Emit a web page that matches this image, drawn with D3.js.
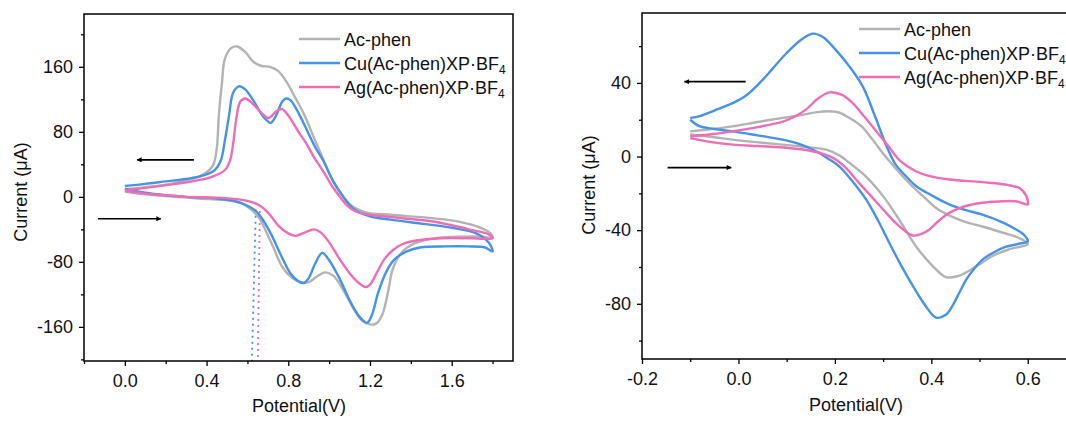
<!DOCTYPE html>
<html><head><meta charset="utf-8">
<script src="https://cdn.jsdelivr.net/npm/d3@7"></script>
<style>
html,body{margin:0;padding:0;background:#fff;}
svg{display:block;font-family:"Liberation Sans",Arial,Helvetica,sans-serif;}
</style></head>
<body><svg id="chart" width="1066" height="421"></svg>
<script>
// ---------- DATA ----------
const seriesNames = ["Ac-phen", "Cu(Ac-phen)XP·BF", "Ag(Ac-phen)XP·BF"];
const seriesSubs = ["", "4", "4"];

// Left panel: [potential V, current µA], forward (lower) branch then return (upper) branch
const leftAcPhen = [
  [0,6.5],[0.1,3],[0.2,1],[0.36,-2],[0.52,-5],[0.58,-9],[0.62,-16],[0.66,-27],[0.69,-42],[0.73,-64],[0.77,-86],[0.82,-100],[0.86,-105],[0.9,-105],[0.94,-98],[0.98,-93],[1.02,-97],[1.07,-115],[1.12,-138],[1.16,-152],[1.2,-157],[1.23,-156],[1.26,-145],[1.29,-115],[1.31,-90],[1.35,-70],[1.42,-57],[1.52,-51],[1.65,-49],[1.75,-49],[1.8,-50],
  [1.79,-45],[1.73,-37],[1.6,-29],[1.45,-25],[1.3,-22],[1.18,-19],[1.1,-9],[1.05,7],[1.01,24],[0.97,47],[0.93,70],[0.88,100],[0.83,124],[0.79,142],[0.75,155],[0.71,160],[0.67,161],[0.63,166],[0.59,178],[0.55,185],[0.52,183],[0.49,170],[0.475,140],[0.46,100],[0.45,60],[0.43,38],[0.38,27],[0.3,20],[0.2,15],[0.1,12],[0,9.5]
];
const leftCu = [
  [0,10],[0.1,5],[0.2,2],[0.3,0],[0.45,-2],[0.55,-6],[0.6,-11],[0.64,-17],[0.68,-30],[0.72,-48],[0.77,-75],[0.81,-94],[0.85,-104],[0.876,-106],[0.9,-100],[0.93,-83],[0.966,-69],[1.0,-78],[1.05,-100],[1.1,-127],[1.15,-148],[1.186,-155],[1.21,-145],[1.24,-118],[1.28,-92],[1.32,-77],[1.38,-67],[1.45,-62],[1.57,-61],[1.68,-61],[1.76,-62],[1.8,-67],
  [1.78,-56],[1.72,-45],[1.6,-38],[1.45,-33],[1.3,-28],[1.2,-24],[1.12,-15],[1.07,0],[1.02,19],[0.97,45],[0.93,62],[0.88,88],[0.84,108],[0.81,119],[0.79,121],[0.77,117],[0.74,100],[0.713,91],[0.68,98],[0.63,118],[0.59,132],[0.558,136],[0.53,128],[0.51,100],[0.49,70],[0.47,45],[0.44,33],[0.38,26],[0.3,22],[0.2,19],[0.1,16],[0,13.5]
];
const leftAg = [
  [0,7.4],[0.1,4],[0.2,2],[0.3,0],[0.45,-1],[0.55,-3],[0.6,-5],[0.656,-10],[0.7,-19],[0.75,-35],[0.8,-45],[0.836,-48],[0.88,-44],[0.925,-40],[0.96,-44],[1.0,-56],[1.05,-76],[1.1,-94],[1.15,-107],[1.178,-111],[1.2,-108],[1.23,-95],[1.27,-77],[1.31,-66],[1.36,-58],[1.42,-54],[1.55,-51],[1.7,-51],[1.8,-51],
  [1.78,-46],[1.7,-41],[1.6,-35],[1.5,-30],[1.35,-26],[1.2,-22],[1.13,-18],[1.09,-11],[1.05,1],[1.015,13],[0.97,32],[0.93,47],[0.89,65],[0.85,80],[0.8,100],[0.77,108],[0.74,105],[0.705,97],[0.67,103],[0.62,116],[0.59,121],[0.565,117],[0.545,95],[0.53,65],[0.515,45],[0.49,33],[0.43,25],[0.35,20],[0.25,16],[0.1,11],[0,8]
];
// dotted guide lines (left panel): [top point, bottom point]
const leftGuideCu = [[0.641,-16],[0.622,-202]];
const leftGuideAg = [[0.661,-10],[0.651,-202]];

// Right panel
const rightAcPhen = [
  [-0.1,12],[-0.05,10.5],[-0.012,9.2],[0.05,7.5],[0.092,6.5],[0.14,5.2],[0.182,3.8],[0.21,0.5],[0.23,-3.4],[0.265,-11],[0.3,-21.5],[0.335,-35],[0.368,-48.7],[0.403,-59.5],[0.43,-65.5],[0.455,-65],[0.472,-63],[0.5,-58.5],[0.527,-54],[0.56,-50.5],[0.6,-47.5],
  [0.58,-44],[0.55,-41.5],[0.506,-38],[0.47,-35.5],[0.437,-32],[0.41,-28],[0.389,-23],[0.36,-16],[0.334,-8.8],[0.305,0],[0.278,9.2],[0.255,16.5],[0.23,21],[0.21,23.8],[0.189,24.6],[0.16,24],[0.13,22.5],[0.092,21],[0.04,18.8],[-0.012,16.4],[-0.06,14.8],[-0.1,13.7]
];
const rightCu = [
  [-0.1,20],[-0.081,16.5],[-0.05,15],[-0.012,13.7],[0.04,11.5],[0.092,9.2],[0.13,6.5],[0.161,2.9],[0.185,-1],[0.209,-5.3],[0.235,-13],[0.264,-23],[0.29,-35],[0.313,-47],[0.337,-59],[0.361,-70],[0.385,-80],[0.41,-87.5],[0.43,-86],[0.444,-81],[0.458,-74],[0.472,-67],[0.49,-60.5],[0.506,-56],[0.53,-52],[0.555,-49],[0.58,-47.5],[0.6,-46],
  [0.59,-42],[0.575,-39.5],[0.55,-36],[0.506,-31.5],[0.47,-29],[0.437,-26],[0.4,-21],[0.368,-16],[0.345,-10],[0.325,-4],[0.305,7],[0.283,22],[0.258,38],[0.23,49],[0.2,58.5],[0.175,65],[0.154,66.8],[0.13,63.5],[0.099,56],[0.07,47.5],[0.044,40],[0.015,33],[-0.012,29],[-0.05,25],[-0.08,22],[-0.1,21]
];
const rightAg = [
  [-0.1,10],[-0.06,8],[-0.012,6.5],[0.04,5.7],[0.092,5],[0.154,2.9],[0.196,-0.7],[0.22,-5.5],[0.25,-14.3],[0.275,-21.5],[0.3,-28.8],[0.33,-37],[0.361,-42.9],[0.38,-42],[0.396,-39.6],[0.415,-35],[0.437,-30.6],[0.47,-27],[0.506,-25.1],[0.54,-24.4],[0.575,-24.3],[0.6,-26],
  [0.6,-24],[0.597,-21.5],[0.585,-17.5],[0.56,-15.5],[0.506,-13.9],[0.437,-12.5],[0.395,-10.5],[0.368,-8],[0.334,-2],[0.31,6],[0.285,14],[0.26,22],[0.237,29],[0.215,33.5],[0.189,34.9],[0.165,31.5],[0.14,25.5],[0.115,21.5],[0.092,19],[0.04,16],[-0.012,13.7],[-0.06,12],[-0.1,11]
];

// axis ticks
const leftXMajor = [0, 0.4, 0.8, 1.2, 1.6];
const leftXMinor = [-0.2, 0.2, 0.6, 1.0, 1.4, 1.8];
const leftYMajor = [-160, -80, 0, 80, 160];
const leftYMinor = [-200, -120, -40, 40, 120, 200];
const rightXMajor = [-0.2, 0, 0.2, 0.4, 0.6];
const rightXMinor = [-0.1, 0.1, 0.3, 0.5];
const rightYMajor = [-80, -40, 0, 40];
const rightYMinor = [-100, -60, -20, 20, 60];

// scan direction arrows, in data coordinates [from, to]
const leftArrows = [[[0.338,45.5],[0.06,45.5]], [[-0.132,-27],[0.176,-27]]];
const rightArrows = [[[0.015,40.7],[-0.112,40.7]], [[-0.147,-6],[-0.015,-6]]];

const colors = ["#b3b3b3", "#4692e8", "#f06cb4"];

// ---------- DRAW ----------
const svg = d3.select("#chart");
const defs = svg.append("defs");
defs.append("marker").attr("id","ah").attr("viewBox","0 0 10 10").attr("refX",9).attr("refY",5)
  .attr("markerWidth",10).attr("markerHeight",5).attr("markerUnits","userSpaceOnUse").attr("orient","auto")
  .append("path").attr("d","M0,0 L10,5 L0,10 Z").attr("fill","#000");

const fx = v => d3.format(".1f")(v).replace("\u2212", "-");
const fy = v => d3.format("d")(v).replace("\u2212", "-");
const FS = 18;

function panel(cfg){
  const g = svg.append("g");
  const x = d3.scaleLinear().domain(cfg.xDomain).range([cfg.left, cfg.right]);
  const y = d3.scaleLinear().domain(cfg.yDomain).range([cfg.bottom, cfg.top]);
  const clipId = "clip" + cfg.id;
  defs.append("clipPath").attr("id", clipId).append("rect")
    .attr("x", cfg.left).attr("y", cfg.top).attr("width", cfg.right - cfg.left).attr("height", cfg.bottom - cfg.top);

  const line = d3.line().x(d => x(d[0])).y(d => y(d[1])).curve(d3.curveCatmullRom.alpha(0.5));
  const cg = g.append("g").attr("clip-path", `url(#${clipId})`);
  if (cfg.guides) {
    cfg.guides.forEach((gd, i) => {
      cg.append("line").attr("x1", x(gd[0][0])).attr("y1", y(gd[0][1])).attr("x2", x(gd[1][0])).attr("y2", y(gd[1][1]))
        .attr("stroke", colors[i+1]).attr("stroke-width", 1.8).attr("stroke-dasharray", "2,4");
    });
  }
  cfg.series.forEach((s, i) => {
    cg.append("path").attr("d", line(s)).attr("fill","none").attr("stroke", colors[i])
      .attr("stroke-width", 2.4).attr("stroke-linejoin","round");
  });

  const xAxis = d3.axisBottom(x).tickValues(cfg.xMajor).tickSize(5).tickPadding(8).tickFormat(fx);
  const yAxis = d3.axisLeft(y).tickValues(cfg.yMajor).tickSize(5).tickPadding(6).tickFormat(fy);
  g.append("g").attr("transform", `translate(0,${cfg.bottom})`).call(xAxis);
  g.append("g").attr("transform", `translate(${cfg.left},0)`).call(yAxis);
  g.append("g").attr("transform", `translate(0,${cfg.bottom})`).call(d3.axisBottom(x).tickValues(cfg.xMinor).tickSize(3).tickFormat(""));
  g.append("g").attr("transform", `translate(${cfg.left},0)`).call(d3.axisLeft(y).tickValues(cfg.yMinor).tickSize(3).tickFormat(""));
  g.selectAll(".domain").remove();
  g.selectAll(".tick line").attr("stroke","#000").attr("stroke-width",1.3);
  g.selectAll(".tick text").attr("font-size", FS).attr("fill","#111").style("font-family","'Liberation Sans',Arial,sans-serif");

  g.append("rect").attr("x", cfg.left).attr("y", cfg.top).attr("width", cfg.right - cfg.left).attr("height", cfg.bottom - cfg.top)
    .attr("fill","none").attr("stroke","#000").attr("stroke-width",1.5);

  g.append("text").attr("x", cfg.xTitleX).attr("y", cfg.xTitleY)
    .attr("text-anchor","middle").attr("font-size", FS).attr("fill","#111").text("Potential(V)");
  g.append("text").attr("transform", `translate(${cfg.yTitleX},${cfg.yTitleY}) rotate(-90)`)
    .attr("text-anchor","middle").attr("font-size", FS).attr("fill","#111").text("Current (μA)");

  cfg.arrows.forEach(a => {
    g.append("line").attr("x1", x(a[0][0])).attr("y1", y(a[0][1])).attr("x2", x(a[1][0])).attr("y2", y(a[1][1]))
      .attr("stroke","#000").attr("stroke-width",1.6).attr("marker-end","url(#ah)");
  });

  seriesNames.forEach((n, i) => {
    const ly = cfg.legY + i * cfg.legStep;
    g.append("line").attr("x1", cfg.legX).attr("x2", cfg.legX + 41).attr("y1", ly).attr("y2", ly)
      .attr("stroke", colors[i]).attr("stroke-width", 2.6);
    const t = g.append("text").attr("x", cfg.legX + 45).attr("y", ly + 6.5).attr("font-size", FS).attr("fill","#111");
    t.append("tspan").text(n);
    if (seriesSubs[i]) t.append("tspan").attr("font-size", 12).attr("dy", 4).text(seriesSubs[i]);
  });
}

panel({
  id: "L", left: 84, right: 513, top: 14, bottom: 361,
  xDomain: [-0.2, 1.9], yDomain: [-202, 225],
  xMajor: leftXMajor, xMinor: leftXMinor, yMajor: leftYMajor, yMinor: leftYMinor,
  series: [leftAcPhen, leftCu, leftAg], guides: [leftGuideCu, leftGuideAg],
  arrows: leftArrows, xTitleX: 299, xTitleY: 412, yTitleX: 27, yTitleY: 192,
  legX: 299, legY: 39, legStep: 24
});
panel({
  id: "R", left: 642, right: 1076, top: 13, bottom: 359,
  xDomain: [-0.2, 0.7], yDomain: [-110, 78],
  xMajor: rightXMajor, xMinor: rightXMinor, yMajor: rightYMajor, yMinor: rightYMinor,
  series: [rightAcPhen, rightCu, rightAg], guides: null,
  arrows: rightArrows, xTitleX: 856, xTitleY: 411, yTitleX: 595, yTitleY: 185,
  legX: 859, legY: 29, legStep: 24
});
</script></body></html>
